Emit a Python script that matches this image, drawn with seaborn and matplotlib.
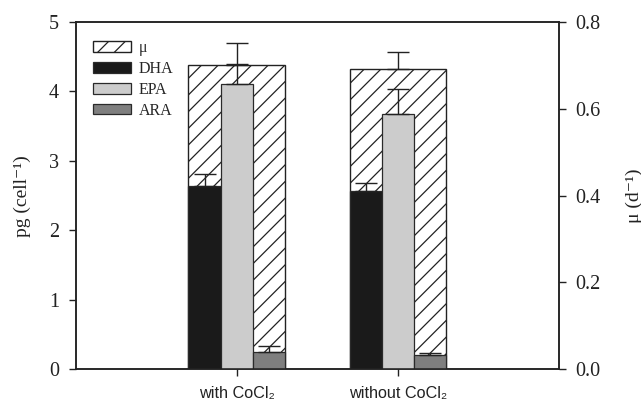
import numpy as np
import pandas as pd
import matplotlib
matplotlib.use("Agg")
import matplotlib.pyplot as plt
import seaborn as sns

# ---- data ----
groups = ["with CoCl\u2082", "without CoCl\u2082"]
acids = ["DHA", "EPA", "ARA"]
dha = [2.64, 2.56]
dha_err = [0.17, 0.12]
epa = [4.11, 3.67]
epa_err = [0.29, 0.37]
ara = [0.245, 0.20]
ara_err = [0.095, 0.03]
mu = [0.700, 0.692]
mu_err = [0.052, 0.038]
acid_colors = ["#1a1a1a", "#cccccc", "#7f7f7f"]

sns.set_theme(style="ticks")
plt.rcParams["font.family"] = ["Liberation Serif", "DejaVu Serif"]
plt.rcParams["hatch.linewidth"] = 0.9
plt.rcParams["hatch.color"] = "#222222"

df = pd.DataFrame({
    "group": groups * 3,
    "acid": [a for a in acids for _ in groups],
    "value": dha + epa + ara,
})
err_map = {"DHA": dha_err, "EPA": epa_err, "ARA": ara_err}
df_mu = pd.DataFrame({"group": groups, "mu": mu})

fig = plt.figure(figsize=(6.41, 4.04), dpi=100)
ax = fig.add_axes([0.1181, 0.0859, 0.754, 0.8597])
ax2 = ax.twinx()

# mu bars (right axis) behind
sns.barplot(data=df_mu, x="group", y="mu", ax=ax2, width=0.6, color="white",
            saturation=1, edgecolor="#222222", linewidth=1.0, hatch="//",
            errorbar=None, order=groups)
bar = ax2.containers[0]
xs_mu = [p.get_x() + p.get_width() / 2 for p in bar.patches]
ax2.errorbar(xs_mu, mu, yerr=[np.zeros(len(mu)), mu_err], fmt="none",
             ecolor="#222222", elinewidth=1.0, capsize=8, capthick=1.0)

# fatty acid bars (left axis) on top
sns.barplot(data=df, x="group", y="value", hue="acid", hue_order=acids,
            order=groups, palette=acid_colors, saturation=1, width=0.6,
            edgecolor="#2a2a2a", linewidth=0.9, errorbar=None, ax=ax,
            legend=False)
bar_conts = list(ax.containers)[:3]
for cont, a in zip(bar_conts, acids):
    xs = [p.get_x() + p.get_width() / 2 for p in cont.patches]
    hs = [p.get_height() for p in cont.patches]
    ax.errorbar(xs, hs, yerr=[np.zeros(len(hs)), err_map[a]], fmt="none",
                ecolor="#222222", elinewidth=1.0, capsize=8, capthick=1.0)

ax.set_zorder(ax2.get_zorder() + 1)
ax.patch.set_visible(False)

ax.set_xlim(-1, 2)
ax.set_ylim(0, 5)
ax2.set_ylim(0, 0.8)
ax.set_yticks([0, 1, 2, 3, 4, 5])
ax.set_yticklabels(["0", "1", "2", "3", "4", "5"])
ax2.set_yticks([0, 0.2, 0.4, 0.6, 0.8])
ax2.set_yticklabels(["0.0", "0.2", "0.4", "0.6", "0.8"])
ax.set_xticks([0, 1])
ax.set_xticklabels(groups, family=["Liberation Sans", "DejaVu Sans"], fontsize=11.7)
ax.set_xlabel("")
ax2.set_xlabel("")

for a_ in (ax, ax2):
    for s in a_.spines.values():
        s.set_visible(True)
        s.set_linewidth(1.1)
        s.set_color("#222222")

ax.tick_params(axis="y", direction="out", length=5, width=1, pad=7,
               labelsize=14.5, colors="#222222", right=False)
ax.tick_params(axis="x", direction="out", length=5, width=1, pad=7,
               colors="#222222", top=False)
ax2.tick_params(axis="y", direction="out", length=5, width=1, pad=7,
                labelsize=14.5, colors="#222222", left=False)

ax.set_ylabel("pg (cell\u207b\u00b9)", fontsize=14, color="#222222")
ax2.set_ylabel("\u03bc (d\u207b\u00b9)", fontsize=14, color="#222222")
ax.yaxis.set_label_coords(-0.092, 0.5)
ax2.yaxis.set_label_coords(1.137, 0.5)

handles = [bar.patches[0]] + [c.patches[0] for c in bar_conts]
labels = ["\u03bc"] + acids
ax.legend(handles, labels, loc="upper left", bbox_to_anchor=(0.015, 0.975),
          frameon=False, fontsize=11.5, handlelength=2.4, handleheight=0.65,
          labelspacing=0.3, handletextpad=0.5, borderaxespad=0.2)

fig.savefig("out.png", dpi=100)
